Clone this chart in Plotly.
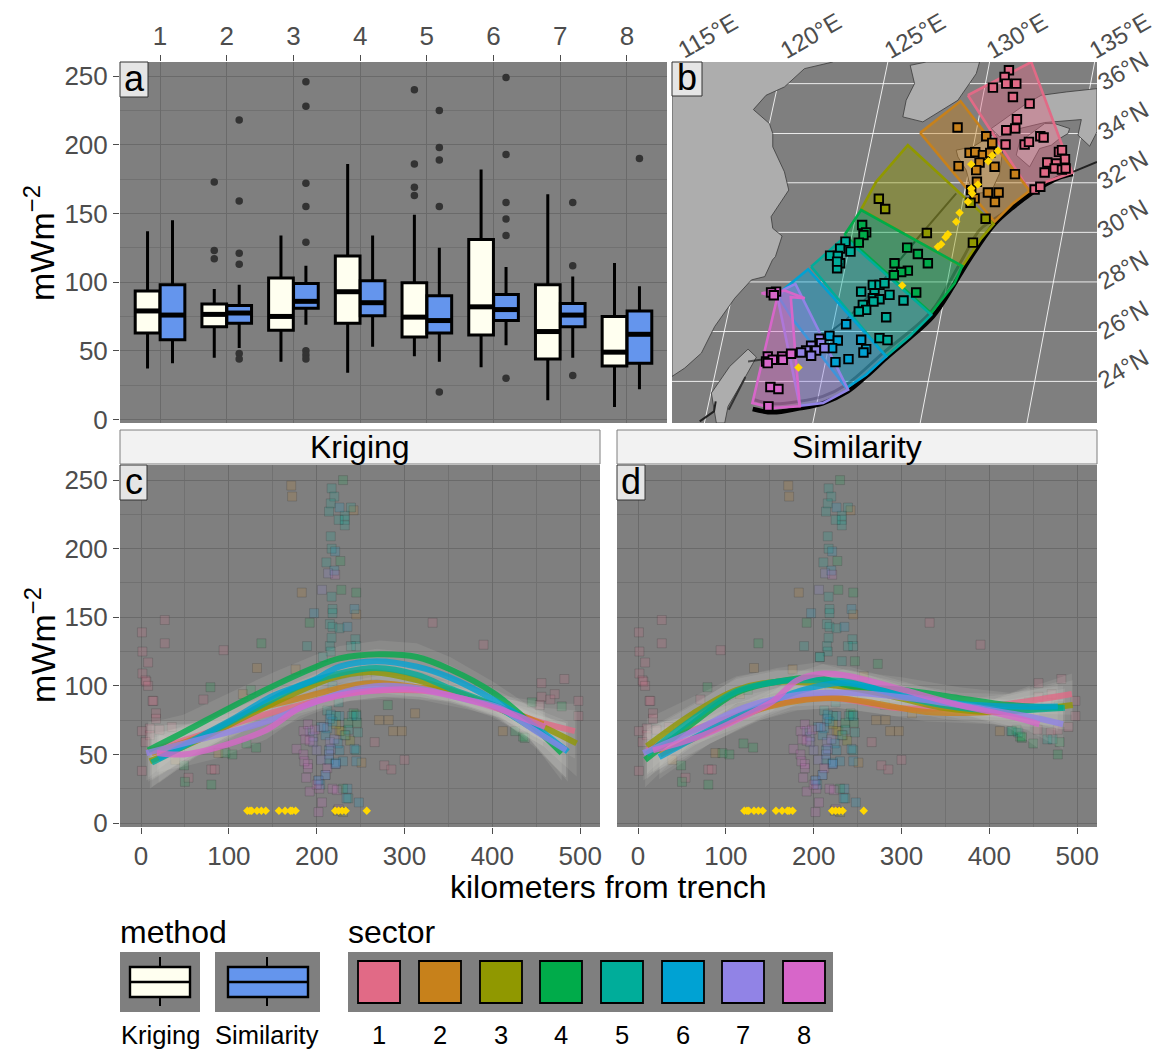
import plotly.graph_objects as go

W, H = 1157, 1051
FONT = "Liberation Sans"
TICK = "#4D4D4D"
PANEL = "#7F7F7F"
GRID_MAJ = "#6A6A6A"
GRID_MIN = "#717171"

CATEGORIES = [1, 2, 3, 4, 5, 6, 7, 8]
SECTOR_COLORS = ["#E16A86", "#C7811B", "#909800", "#00AB4A", "#00AD9A", "#00A2D3", "#9183E6", "#D766C9"]
KRIGING_COLOR = "#FFFFF0"
SIMILARITY_COLOR = "#6495ED"

# ---- panel a: box statistics ----
K_LOW = [37, 45, 42, 34, 46, 38, 14, 9]
K_Q1 = [63, 67.5, 65, 70, 60, 61.5, 44, 39]
K_MED = [79, 76.5, 75, 93, 74.5, 82, 64, 49]
K_Q3 = [93.5, 84, 103, 119, 99.5, 131, 98, 75]
K_HIGH = [137, 95, 134, 186, 149, 182, 164, 114]
S_LOW = [41, 52, 69, 53, 42, 54, 45, 22]
S_Q1 = [58, 70, 81, 75.5, 63, 72, 67.5, 41]
S_MED = [76, 77.5, 86, 85, 72, 80, 76, 62]
S_Q3 = [98, 83, 99, 101, 90, 91, 84.5, 79]
S_HIGH = [145, 98, 112, 134, 125, 111, 104, 97]
K_OUT_CAT = [2, 2, 2, 5, 5, 5, 5]
K_OUT_MW = [173, 123, 117, 240, 186, 169, 163]
S_OUT_CAT = [2, 2, 2, 2, 2, 2, 3, 3, 3, 3, 3, 3, 3, 3, 5, 5, 5, 5, 5, 6, 6, 6, 6, 6, 6, 7, 7, 7, 8]
S_OUT_MW = [218, 159, 121, 113, 48, 44, 246, 228, 172, 155, 129, 50, 47, 44, 225, 198, 189, 155, 20, 249, 193, 158, 146, 134, 30, 158, 112, 32, 190]

# ---- panel b: map, in map units ----
CHINA_X = [490, 405, 345, 290, 252, 300, 310, 310, 345, 358, 305, 310, 338, 318, 309, 286, 246, 196, 136, 96, 46, 8, 8]
CHINA_Y = [185, 205, 260, 285, 328, 370, 400, 440, 515, 570, 650, 685, 708, 770, 780, 830, 840, 895, 980, 1060, 1105, 1130, 185]
KOREA_X = [722, 770, 930, 920, 865, 800, 760, 700, 710, 735, 722]
KOREA_Y = [195, 185, 185, 220, 300, 340, 365, 350, 300, 250, 195]
HONSHU_X = [965, 1015, 1070, 1115, 1190, 1282, 1282, 1260, 1225, 1235, 1160, 1125, 1050, 990, 965]
HONSHU_Y = [385, 350, 310, 285, 275, 265, 395, 438, 405, 358, 363, 367, 385, 410, 385]
SHIKOKU_X = [1040, 1050, 1125, 1155, 1200, 1195, 1170, 1145, 1110, 1080, 1040]
SHIKOKU_Y = [465, 425, 370, 370, 385, 400, 415, 435, 445, 500, 465]
KYUSHU_X = [860, 910, 975, 1000, 990, 965, 920, 900, 890, 865, 860]
KYUSHU_Y = [450, 440, 400, 445, 520, 575, 580, 550, 510, 470, 450]
TAIWAN_X = [236, 261, 226, 176, 166, 141, 126, 181, 236]
TAIWAN_Y = [1048, 1072, 1135, 1220, 1270, 1270, 1180, 1100, 1048]
LAT_LABELS = ["36°N", "34°N", "32°N", "30°N", "28°N", "26°N", "24°N"]
LAT_LINE_Y = [250, 400, 548, 697, 846, 995, 1145]
LON_LABELS = ["115°E", "120°E", "125°E", "130°E", "135°E"]
LON_TOP_X = [340, 655, 960, 1275]
LON_BOTTOM_X = [105, 430, 752, 1072]
TRENCH_X = [250, 310, 390, 460, 535, 590, 650, 720, 790, 850, 880, 925, 975, 1030, 1085, 1130, 1170, 1210]
TRENCH_Y = [1228, 1238, 1226, 1211, 1175, 1130, 1075, 1015, 950, 860, 810, 740, 672, 622, 580, 552, 532, 522]
TRENCH_E_X = [1210, 1282]
TRENCH_E_Y = [515, 485]
BAND_X = [255, 310, 390, 460, 530, 640, 785, 860, 880, 930, 970, 1030, 1075]
BAND_Y = [1200, 1212, 1205, 1190, 1155, 1060, 935, 810, 775, 690, 660, 620, 590]
TROUGH_X = [860, 740, 650, 530, 450, 380, 236]
TROUGH_Y = [580, 720, 830, 960, 1020, 1065, 1085]
TW_FAULT_X = [228, 178]
TW_FAULT_Y = [1132, 1230]
TW_ARC_X = [139, 134, 91]
TW_ARC_Y = [1205, 1235, 1265]

SEC_X_1 = [895, 1085, 1208, 1170, 1130, 1082, 895]
SEC_Y_1 = [285, 185, 518, 530, 545, 575, 285]
SEC_X_2 = [752, 873, 1080, 1030, 975, 752]
SEC_Y_2 = [398, 303, 572, 610, 665, 398]
SEC_X_3 = [575, 620, 715, 972, 935, 905, 878, 575]
SEC_Y_3 = [628, 545, 435, 672, 715, 760, 800, 628]
SEC_X_4 = [525, 575, 878, 855, 785, 525]
SEC_Y_4 = [705, 630, 798, 850, 940, 705]
SEC_X_5 = [425, 475, 525, 785, 720, 650, 425]
SEC_Y_5 = [800, 755, 712, 945, 1010, 1070, 800]
SEC_X_6 = [340, 416, 650, 590, 531, 371, 330, 340]
SEC_Y_6 = [870, 808, 1070, 1125, 1165, 960, 895, 870]
SEC_X_7 = [341, 378, 536, 461, 391, 326, 341]
SEC_Y_7 = [870, 852, 1170, 1210, 1218, 900, 870]
SEC_X_8 = [276, 346, 406, 364, 391, 311, 249, 324, 276]
SEC_Y_8 = [880, 872, 895, 892, 1220, 1225, 1210, 890, 880]

MAP_X_1 = [1018, 1005, 1010, 1040, 970, 1030, 1080, 1042, 1010, 1037, 1008, 1065, 1078, 1112, 1122, 1168, 1177, 1186, 1133, 1160, 1125, 1155, 1177, 1188, 1095, 1112]
MAP_Y_1 = [210, 230, 250, 250, 262, 290, 310, 357, 390, 385, 433, 433, 425, 408, 412, 455, 450, 477, 487, 490, 517, 505, 508, 505, 568, 560]
MAP_X_2 = [864, 950, 968, 900, 917, 940, 962, 930, 867, 975, 920, 1036, 922, 955, 987, 976, 915, 905]
MAP_Y_2 = [382, 408, 428, 458, 456, 465, 458, 487, 498, 500, 510, 522, 545, 577, 577, 606, 595, 570]
MAP_X_3 = [628, 647, 772, 948, 910, 903]
MAP_Y_3 = [596, 627, 699, 656, 728, 608]
MAP_X_4 = [578, 590, 582, 568, 713, 745, 775, 675, 715, 695, 673, 740]
MAP_Y_4 = [675, 697, 705, 728, 743, 762, 790, 790, 812, 816, 826, 878]
MAP_X_5 = [528, 512, 543, 482, 505, 512, 503, 503, 575, 610, 630, 645, 615, 610, 630, 660, 702, 612, 580, 590, 568, 650, 630, 654]
MAP_Y_5 = [725, 746, 755, 767, 768, 790, 805, 785, 875, 855, 855, 850, 880, 895, 898, 885, 902, 905, 915, 930, 935, 952, 1015, 1021]
MAP_X_6 = [530, 480, 505, 575, 488, 590, 582, 498, 537]
MAP_Y_6 = [973, 1008, 1022, 1020, 1045, 1048, 1058, 1087, 1078]
MAP_X_7 = [450, 455, 425, 410, 440, 465, 425, 395]
MAP_Y_7 = [1017, 1030, 1038, 1052, 1052, 1045, 1068, 1058]
MAP_X_8 = [320, 305, 313, 295, 290, 310, 295, 338, 340, 365, 303, 327, 297]
MAP_Y_8 = [875, 878, 886, 1070, 1085, 1080, 1090, 1070, 1080, 1062, 1162, 1168, 1220]
MAP_YELLOW_X = [985, 968, 956, 905, 925, 905, 908, 895, 870, 860, 835, 828, 815, 805, 698, 387]
MAP_YELLOW_Y = [452, 466, 483, 492, 553, 565, 580, 605, 638, 665, 703, 712, 733, 740, 857, 1103]

# ---- panels c, d: heat-flow observations ----
PT_KM_1 = [1, 1.5, 8, 1.5, 27, 27, 5, 6, 8, 13, 14, 17, 17, 10, 1, 10, 5, 21, 35, 1, 94, 71, 54, 80, 84, 277, 285, 266, 300, 332, 390, 456, 482, 456, 466, 471, 498, 498, 454]
PT_MW_1 = [139, 125, 117, 109, 148, 131, 104, 103, 100, 89, 89, 80, 76, 69, 67, 64, 59, 68, 70, 38, 126, 90, 33, 39, 39, 42, 39, 59, 46, 146, 130, 102, 105, 92, 90, 94, 89, 78, 86]
PT_KM_2 = [171, 172, 242, 183, 245, 132, 116, 176, 271, 282, 312, 287, 297, 251, 88, 39, 412, 226, 257]
PT_MW_2 = [246, 238, 228, 168, 152, 113, 94, 112, 75, 75, 80, 67, 67, 44, 51, 46, 67, 67, 107]
PT_KM_3 = [228, 230, 238, 224, 222, 233]
PT_MW_3 = [67, 8, 60, 9, 72, 64]
PT_KM_4 = [137, 79, 125, 104, 96, 131, 49, 50, 80, 192, 228, 245, 227, 230, 120, 281, 479, 426, 435, 437, 445, 242, 245, 230, 222, 236, 246]
PT_MW_4 = [131, 99, 97, 50, 51, 55, 42, 30, 28, 146, 170, 168, 191, 250, 58, 86, 85, 67, 63, 62, 88, 80, 79, 25, 78, 73, 73]
PT_KM_5 = [217, 220, 216, 214, 239, 232, 232, 232, 225, 216, 217, 211, 217, 218, 218, 215, 218, 226, 217, 215, 244, 245, 239, 216, 207, 189, 236, 236, 218, 225, 240, 247, 212, 245]
PT_MW_5 = [244, 238, 233, 227, 230, 224, 221, 217, 221, 209, 200, 190, 165, 156, 153, 145, 143, 142, 135, 129, 134, 129, 129, 125, 121, 129, 68, 18, 100, 88, 78, 66, 82, 53]
PT_KM_6 = [226, 221, 220, 197, 235, 243, 215, 212, 214, 221, 202, 210, 235, 248, 234, 230, 243, 245, 245, 226, 205, 232, 224, 226, 218, 214, 210, 204, 222, 216]
PT_MW_6 = [230, 198, 184, 153, 143, 156, 76, 69, 53, 43, 31, 35, 25, 15, 18, 45, 54, 45, 78, 78, 70, 64, 58, 53, 74, 46, 64, 28, 44, 79]
PT_KM_7 = [206, 213, 196, 196, 200, 215, 216, 202, 210, 222, 208, 214, 220, 205, 192]
PT_MW_7 = [170, 182, 63, 59, 53, 59, 54, 31, 35, 43, 70, 50, 61, 46, 67]
PT_KM_8 = [221, 185, 187, 190, 177, 185, 190, 190, 188, 192, 203, 206, 202, 218, 223, 225, 192, 186, 198, 212, 200]
PT_MW_8 = [181, 67, 61, 72, 54, 50, 43, 40, 33, 23, 25, 15, 8, 25, 24, 10, 60, 45, 68, 40, 28]
D_KM_4 = [431, 437, 450, 478, 480, 247, 273]
D_MW_4 = [68, 63, 58, 50, 59, 118, 116]
D_KM_5 = [425, 433, 472, 466, 232, 207]
D_MW_5 = [67, 66, 61, 61, 118, 121]
D_KM_1 = [455, 478, 490, 470]
D_MW_1 = [68, 68, 70, 66]
YELLOW_KM = [121, 124, 126, 132, 137, 142, 157, 164, 170, 172, 176, 221, 225, 229, 233, 257]
YELLOW_MW = [9, 9, 9, 9, 9, 9, 9, 9, 9, 9, 9, 9, 9, 9, 9, 9]

# ---- panel c: smooth fits ----
C_KM_1 = [8, 67, 124, 181, 238, 287, 352, 401, 447, 494]
C_MW_1 = [52, 64, 76, 86, 95, 97, 95, 86, 75, 67]
C_SE_1 = [22, 11, 7, 6, 6, 6, 6, 6, 12, 20]
C_KM_2 = [12, 67, 124, 181, 238, 268, 314, 352, 401, 458]
C_MW_2 = [51, 63, 81, 91, 100, 102, 99, 96, 86, 72]
C_SE_2 = [20, 10, 7, 6, 6, 7, 7, 7, 8, 16]
C_KM_3 = [10, 67, 143, 219, 257, 295, 352, 401, 458, 496]
C_MW_3 = [45, 61, 85, 106, 110, 107, 97, 85, 70, 58]
C_SE_3 = [20, 11, 9, 8, 9, 9, 9, 8, 14, 24]
C_KM_4 = [8, 48, 101, 151, 196, 226, 272, 314, 352, 401, 443, 479]
C_MW_4 = [53, 66, 84, 100, 113, 120, 123, 121, 112, 95, 73, 51]
C_SE_4 = [20, 13, 11, 10, 9, 9, 10, 10, 9, 8, 12, 20]
C_KM_5 = [12, 67, 120, 181, 226, 268, 314, 352, 401, 443, 484]
C_MW_5 = [44, 62, 80, 100, 109, 113, 108, 98, 86, 70, 53]
C_SE_5 = [18, 10, 9, 8, 7, 8, 8, 8, 7, 10, 20]
C_KM_6 = [20, 67, 105, 151, 196, 226, 268, 314, 352, 401, 443, 486]
C_MW_6 = [47, 63, 76, 93, 104, 114, 118, 114, 106, 90, 73, 52]
C_SE_6 = [18, 12, 10, 9, 8, 8, 9, 10, 9, 8, 12, 22]
C_KM_7 = [6, 67, 143, 189, 234, 276, 317, 371, 408, 447, 484]
C_MW_7 = [51, 61, 74, 86, 96, 100, 98, 90, 84, 68, 53]
C_SE_7 = [20, 11, 9, 8, 7, 8, 8, 7, 7, 12, 20]
C_KM_8 = [18, 48, 86, 143, 181, 226, 276, 317, 371, 408, 460]
C_MW_8 = [51, 50, 55, 68, 84, 93, 97, 97, 90, 83, 70]
C_SE_8 = [14, 9, 8, 7, 6, 5, 5, 5, 5, 6, 11]

# ---- panel d: smooth fits ----
D_LKM_1 = [10, 63, 120, 173, 226, 291, 366, 423, 494]
D_LMW_1 = [53, 68, 80, 89, 91, 84, 84, 87, 94]
D_LSE_1 = [18, 11, 9, 7, 7, 6, 6, 7, 15]
D_LKM_2 = [25, 82, 139, 181, 226, 272, 328, 404, 446]
D_LMW_2 = [50, 67, 83, 89, 91, 87, 81, 81, 84]
D_LSE_2 = [14, 9, 8, 7, 7, 7, 7, 9, 16]
D_LKM_3 = [10, 63, 112, 158, 215, 272, 347, 404, 495]
D_LMW_3 = [56, 80, 97, 103, 101, 95, 84, 81, 86]
D_LSE_3 = [20, 12, 10, 9, 9, 9, 8, 9, 18]
D_LKM_4 = [8, 63, 112, 158, 203, 241, 302, 366, 423, 484]
D_LMW_4 = [46, 73, 95, 103, 106, 100, 97, 91, 86, 84]
D_LSE_4 = [20, 13, 11, 10, 11, 11, 9, 8, 9, 16]
D_LKM_5 = [10, 63, 112, 158, 196, 241, 302, 366, 423, 486]
D_LMW_5 = [50, 76, 96, 103, 104, 103, 92, 84, 82, 84]
D_LSE_5 = [18, 11, 9, 8, 8, 9, 8, 8, 8, 14]
D_LKM_6 = [24, 82, 139, 188, 234, 302, 366, 423, 478]
D_LMW_6 = [48, 68, 85, 97, 102, 93, 87, 85, 85]
D_LSE_6 = [16, 10, 9, 9, 10, 9, 8, 9, 18]
D_LKM_7 = [6, 63, 120, 177, 241, 310, 385, 442, 484]
D_LMW_7 = [51, 67, 84, 93, 95, 91, 84, 78, 72]
D_LSE_7 = [20, 11, 9, 8, 8, 7, 7, 10, 18]
D_LKM_8 = [17, 74, 131, 154, 181, 211, 241, 302, 366, 423, 457]
D_LMW_8 = [53, 64, 81, 89, 104, 109, 107, 97, 86, 78, 72]
D_LSE_8 = [16, 9, 7, 7, 6, 7, 7, 6, 6, 9, 18]

g = globals()


def rgba(hex_color, a):
    h = hex_color.lstrip("#")
    return f"rgba({int(h[0:2],16)},{int(h[2:4],16)},{int(h[4:6],16)},{a})"


def px(x):
    return x / W


def py(y):
    return 1 - y / H


fig = go.Figure()

# ----- panel a -----
OFF = 0.187
BW = 0.37
for name, color, dx, lo, q1, med, q3, hi in [
    ("Kriging", KRIGING_COLOR, -OFF, K_LOW, K_Q1, K_MED, K_Q3, K_HIGH),
    ("Similarity", SIMILARITY_COLOR, OFF, S_LOW, S_Q1, S_MED, S_Q3, S_HIGH),
]:
    xs = [c + dx for c in CATEGORIES]
    fig.add_trace(go.Box(x=xs, q1=q1, median=med, q3=q3, lowerfence=lo, upperfence=hi,
                         width=BW, whiskerwidth=0, fillcolor=color, boxpoints=False,
                         line=dict(color="black", width=3), name=name, xaxis="x", yaxis="y",
                         showlegend=False, orientation="v"))
    mx, my = [], []
    for x, m in zip(xs, med):
        mx += [x - BW / 2, x + BW / 2, None]
        my += [m, m, None]
    fig.add_trace(go.Scatter(x=mx, y=my, mode="lines", line=dict(color="black", width=5),
                             xaxis="x", yaxis="y", showlegend=False, hoverinfo="skip"))
for cats, vals, dx in [(K_OUT_CAT, K_OUT_MW, -OFF), (S_OUT_CAT, S_OUT_MW, OFF)]:
    fig.add_trace(go.Scatter(x=[c + dx for c in cats], y=vals, mode="markers",
                             marker=dict(color="#333333", size=7.5),
                             xaxis="x", yaxis="y", showlegend=False))

# ----- panel b -----
MAP = dict(xaxis="x2", yaxis="y2", showlegend=False, hoverinfo="skip")
for y in LAT_LINE_Y:
    fig.add_trace(go.Scatter(x=[8, 1282], y=[y, y], mode="lines", line=dict(color="rgba(255,255,255,0.85)", width=1), **MAP))
for xt, xb in zip(LON_TOP_X, LON_BOTTOM_X):
    fig.add_trace(go.Scatter(x=[xt, xb], y=[185, 1270], mode="lines", line=dict(color="rgba(255,255,255,0.85)", width=1), **MAP))
for lx, ly in [(CHINA_X, CHINA_Y), (KOREA_X, KOREA_Y), (HONSHU_X, HONSHU_Y), (SHIKOKU_X, SHIKOKU_Y), (KYUSHU_X, KYUSHU_Y), (TAIWAN_X, TAIWAN_Y)]:
    fig.add_trace(go.Scatter(x=lx, y=ly, mode="lines", fill="toself", fillcolor="#ADADAD",
                             line=dict(color="#3A3A3A", width=0.8), **MAP))
fig.add_trace(go.Scatter(x=TRENCH_X, y=TRENCH_Y, mode="lines", line=dict(color="black", width=4.5, shape="spline"), **MAP))
fig.add_trace(go.Scatter(x=TRENCH_E_X, y=TRENCH_E_Y, mode="lines", line=dict(color="#222222", width=2), **MAP))
fig.add_trace(go.Scatter(x=TROUGH_X, y=TROUGH_Y, mode="lines", line=dict(color="rgba(0,0,0,0.55)", width=2), **MAP))
fig.add_trace(go.Scatter(x=TW_FAULT_X, y=TW_FAULT_Y, mode="lines", line=dict(color="#333333", width=2), **MAP))
fig.add_trace(go.Scatter(x=TW_ARC_X, y=TW_ARC_Y, mode="lines", line=dict(color="#222222", width=2), **MAP))
fig.add_trace(go.Scatter(x=BAND_X, y=BAND_Y, mode="lines", line=dict(color="rgba(0,0,0,0.4)", width=3, shape="spline"), **MAP))
for s in CATEGORIES:
    col = SECTOR_COLORS[s - 1]
    fig.add_trace(go.Scatter(x=g[f"SEC_X_{s}"], y=g[f"SEC_Y_{s}"], mode="lines", fill="toself",
                             fillcolor=rgba(col, 0.42), line=dict(color=col, width=2.6), **MAP))
for s in CATEGORIES:
    col = SECTOR_COLORS[s - 1]
    fig.add_trace(go.Scatter(x=g[f"MAP_X_{s}"], y=g[f"MAP_Y_{s}"], mode="markers",
                             marker=dict(symbol="square", size=8.5, color=col, line=dict(color="black", width=1.9)), **MAP))
fig.add_trace(go.Scatter(x=MAP_YELLOW_X, y=MAP_YELLOW_Y, mode="markers",
                         marker=dict(symbol="diamond", size=6.5, color="#FFD700"), **MAP))

# ----- panels c, d -----
for xa, ya, line_km, line_mw, line_se, extras in [
    ("x3", "y3", "C_KM_", "C_MW_", "C_SE_", False),
    ("x4", "y4", "D_LKM_", "D_LMW_", "D_LSE_", True),
]:
    for s in CATEGORIES:
        col = SECTOR_COLORS[s - 1]
        xs, ys = list(g[f"PT_KM_{s}"]), list(g[f"PT_MW_{s}"])
        if extras and f"D_KM_{s}" in g:
            xs += g[f"D_KM_{s}"]
            ys += g[f"D_MW_{s}"]
        fig.add_trace(go.Scatter(x=xs, y=ys, mode="markers", xaxis=xa, yaxis=ya, showlegend=False,
                                 marker=dict(symbol="square", size=9, color=rgba(col, 0.17),
                                             line=dict(color=rgba("#333333", 0.2), width=1))))
    for s in CATEGORIES:
        k, m, e = g[f"{line_km}{s}"], g[f"{line_mw}{s}"], g[f"{line_se}{s}"]
        up = [a + b for a, b in zip(m, e)]
        dn = [a - b for a, b in zip(m, e)]
        fig.add_trace(go.Scatter(x=k + k[::-1], y=up + dn[::-1], mode="lines", fill="toself",
                                 fillcolor="rgba(232,232,215,0.11)", line=dict(width=0, color="rgba(0,0,0,0)"),
                                 xaxis=xa, yaxis=ya, showlegend=False, hoverinfo="skip"))
    for s in CATEGORIES:
        col = SECTOR_COLORS[s - 1]
        fig.add_trace(go.Scatter(x=g[f"{line_km}{s}"], y=g[f"{line_mw}{s}"], mode="lines",
                                 line=dict(color=col, width=6, shape="spline", smoothing=1.0),
                                 opacity=0.78, xaxis=xa, yaxis=ya, showlegend=False))
    fig.add_trace(go.Scatter(x=YELLOW_KM, y=YELLOW_MW, mode="markers", xaxis=xa, yaxis=ya, showlegend=False,
                             marker=dict(symbol="diamond", size=6.5, color="#FFD700")))

# ----- axes -----
def axis(**kw):
    base = dict(showgrid=True, gridcolor=GRID_MAJ, gridwidth=1.3, zeroline=False, showline=False,
                ticks="outside", ticklen=6, tickcolor=TICK, tickwidth=1.3,
                tickfont=dict(family=FONT, size=26, color=TICK), layer="below traces")
    base.update(kw)
    return base


Y_TICKS = [0, 50, 100, 150, 200, 250]
Y_MINOR = dict(tickvals=[25, 75, 125, 175, 225], showgrid=True, gridcolor=GRID_MIN, gridwidth=1, ticks="")
X_MINOR = dict(tickvals=[50, 150, 250, 350, 450], showgrid=True, gridcolor=GRID_MIN, gridwidth=1, ticks="")
X_TICKS = [0, 100, 200, 300, 400, 500]

fig.update_layout(
    width=W, height=H, autosize=False, margin=dict(l=0, r=0, t=0, b=0, autoexpand=False),
    paper_bgcolor="white", plot_bgcolor=PANEL, showlegend=False, boxmode="overlay",
    font=dict(family=FONT, color="black"),
    xaxis=axis(domain=[px(120), px(667)], range=[0.4, 8.6], side="top", anchor="y",
               tickvals=CATEGORIES, ticktext=[str(c) for c in CATEGORIES]),
    yaxis=axis(domain=[py(423), py(62)], range=[-2.6, 260.3], anchor="x", tickvals=Y_TICKS, minor=Y_MINOR),
    xaxis2=axis(domain=[px(672), px(1097)], range=[8, 1282], anchor="y2", showgrid=False, ticks="", showticklabels=False),
    yaxis2=axis(domain=[py(423), py(62)], range=[1270, 185], anchor="x2", showgrid=False, ticks="", showticklabels=False),
    xaxis3=axis(domain=[px(120), px(600)], range=[-24, 522.6], anchor="y3", tickvals=X_TICKS, minor=X_MINOR),
    yaxis3=axis(domain=[py(827), py(465)], range=[-2.9, 261], anchor="x3", tickvals=Y_TICKS, minor=Y_MINOR),
    xaxis4=axis(domain=[px(617), px(1097)], range=[-24, 522.6], anchor="y4", tickvals=X_TICKS, minor=X_MINOR),
    yaxis4=axis(domain=[py(827), py(465)], range=[-2.9, 261], anchor="x4", tickvals=Y_TICKS, minor=Y_MINOR,
                showticklabels=False, ticks=""),
)

# ----- paper furniture -----
shapes = []
ann = []


def rect(x0, y0, x1, y1, fill, line=None, lw=1):
    shapes.append(dict(type="rect", xref="paper", yref="paper", x0=px(x0), x1=px(x1), y0=py(y0), y1=py(y1),
                       fillcolor=fill, line=dict(color=line or "rgba(0,0,0,0)", width=lw if line else 0)))


def seg(x0, y0, x1, y1, color="black", lw=2):
    shapes.append(dict(type="line", xref="paper", yref="paper", x0=px(x0), x1=px(x1), y0=py(y0), y1=py(y1),
                       line=dict(color=color, width=lw)))


def text(x, y, t, size, color="black", angle=0, anchor="center"):
    ann.append(dict(xref="paper", yref="paper", x=px(x), y=py(y), text=t, showarrow=False,
                    font=dict(family=FONT, size=size, color=color), textangle=angle,
                    xanchor=anchor, yanchor="middle"))


# panel tags
for lab, x0, y0, x1, y1 in [("a", 120, 62, 148, 97), ("b", 672, 62, 702, 96), ("c", 120, 465, 147, 500), ("d", 617, 465, 645, 500)]:
    rect(x0, y0, x1, y1, "#E5E5E5", "#333333", 1)
    text((x0 + x1) / 2, (y0 + y1) / 2 - 1, lab, 36)

# strips
for lab, x0, x1 in [("Kriging", 120, 600), ("Similarity", 617, 1097)]:
    rect(x0, 430, x1, 464, "#F2F2F2", "#7F7F7F", 1)
    text((x0 + x1) / 2, 447, lab, 32)

# axis titles
text(40, 243, "mWm<sup>−2</sup>", 34, angle=-90)
text(40, 645, "mWm<sup>−2</sup>", 34, angle=-90)
text(608, 887, "kilometers from trench", 32)

# map graticule labels
LON_LABEL_PX = [708, 811, 915, 1017, 1120]
LAT_LABEL_PY = [70, 120, 170, 219, 269, 319, 368]
for lab, x in zip(LON_LABELS, LON_LABEL_PX):
    text(x, 36, lab, 24, TICK, angle=-30)
for lab, y in zip(LAT_LABELS, LAT_LABEL_PY):
    text(1123, y, lab, 24, TICK, angle=-30)

# legend
text(118, 932, "method", 32, anchor="left")
text(346, 932, "sector", 32, anchor="left")
rect(120, 952, 200, 1012, PANEL)
rect(215, 952, 320, 1012, PANEL)
rect(348, 952, 833, 1012, PANEL)
for x_mid, x0, x1, col in [(160, 130, 190, KRIGING_COLOR), (267, 228, 308, SIMILARITY_COLOR)]:
    seg(x_mid, 957, x_mid, 967)
    seg(x_mid, 997, x_mid, 1006)
    rect(x0, 967, x1, 997, col, "black", 2.4)
    seg(x0, 982, x1, 982, lw=2.4)
text(160, 1035, "Kriging", 25.5)
text(267, 1035, "Similarity", 25.5)
LEGEND_SWATCH_X = [358, 419, 480, 540, 601, 662, 722, 783]
for s, x0 in zip(CATEGORIES, LEGEND_SWATCH_X):
    rect(x0, 961, x0 + 42, 1003, SECTOR_COLORS[s - 1], "black", 1.8)
    text(x0 + 21, 1035, str(s), 25.5)

fig.update_layout(shapes=shapes, annotations=ann)
fig.write_html(
    "out.html",
    config={"displayModeBar": False},
    post_script=(
        "for(const el of [document.documentElement,document.body]){"
        "el.style.margin='0';el.style.padding='0';el.style.height='1051px';el.style.overflow='hidden';}"
    ),
)
